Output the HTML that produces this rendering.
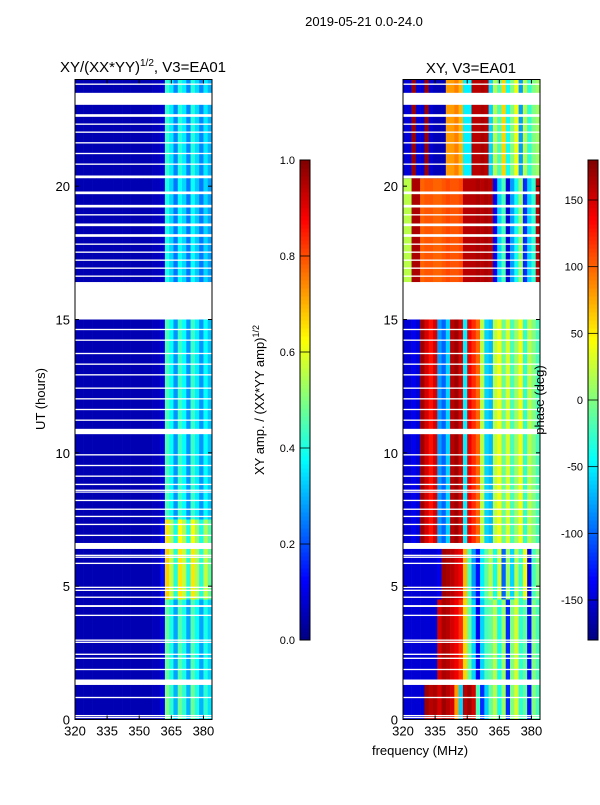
<!DOCTYPE html>
<html><head><meta charset="utf-8">
<style>
body{margin:0;background:#fff;}
svg text{font-family:"Liberation Sans","DejaVu Sans",sans-serif;fill:#000;}
</style></head>
<body>
<svg id="fig" width="600" height="800" xmlns="http://www.w3.org/2000/svg">
<text x="364" y="26" font-size="13" text-anchor="middle">2019-05-21 0.0-24.0</text>
<text x="143" y="72" font-size="15" text-anchor="middle">XY/(XX*YY)<tspan font-size="10" dy="-6">1/2</tspan><tspan dy="6">, V3=EA01</tspan></text>
<text x="471" y="73" font-size="15" text-anchor="middle">XY, V3=EA01</text>
<text x="420" y="755" font-size="13" text-anchor="middle">frequency (MHz)</text>
<text transform="translate(45,399) rotate(-90)" font-size="13" text-anchor="middle">UT (hours)</text>
<text transform="translate(264,400) rotate(-90)" font-size="13" text-anchor="middle">XY amp. / (XX*YY amp)<tspan font-size="9" dy="-5">1/2</tspan></text>
<g id="left"></g>
<g id="right"></g>
<g id="axes"></g>
<text transform="translate(544,400) rotate(-90)" font-size="13" text-anchor="middle">phase (deg)</text>
</svg>
<script>
// frequency channels (MHz, 2 MHz wide, 320-384)
const channels = [320,322,324,326,328,330,332,334,336,338,340,342,344,346,348,350,352,354,356,358,360,362,364,366,368,370,372,374,376,378,380,382];
// left amplitude profile per channel
const ampProfile = [0.05,0.05,0.05,0.05,0.05,0.05,0.05,0.05,0.05,0.05,0.05,0.05,0.05,0.05,0.05,0.05,0.05,0.05,0.06,0.06,0.1,0.5,0.42,0.3,0.48,0.42,0.3,0.48,0.4,0.3,0.42,0.35];
// time segments [start,end] and amp gain
const segStart = [0,1.5,4.5,6.6,7.5,16.4,20.3];
const segEnd   = [1.3,4.5,6.4,7.5,15.0,20.3,24];
const segGain  = [1.0,0.95,1.35,1.3,0.9,0.8,0.85];
// phase profiles (deg) per segment, per channel
const phaseSeg = [
 [-150,-150,-150,-150,-150,170,160,165,150,170,160,150,80,-60,160,170,150,-20,-120,-60,-10,20,-40,10,-120,0,30,-30,-10,-130,0,-20],
 [-150,-150,-150,-150,-150,-150,-150,-150,150,165,160,150,140,120,60,-10,-60,-140,-60,-20,-10,20,-40,10,-120,0,30,-30,-10,-130,0,-20],
 [-150,-150,-150,-150,-150,-150,-150,-150,-140,170,165,160,150,140,70,-20,-80,-130,-50,-10,20,-40,30,-100,10,-60,20,-30,40,-140,-20,0],
 [-150,-150,-140,-150,170,150,130,150,-80,-100,-60,160,170,150,-50,140,120,100,20,-60,-70,20,40,-10,30,-20,10,40,-30,20,0,-20],
 [-150,-150,-140,-150,170,150,130,150,-80,-100,-60,160,170,150,-50,140,120,100,20,-60,-70,20,40,-10,30,-20,10,40,-30,20,0,-20],
 [20,20,165,165,100,105,105,100,100,105,110,105,105,110,160,160,160,165,160,165,160,-140,-60,-20,-150,-80,-40,10,-120,-60,-30,160],
 [-150,-150,170,-150,-150,170,-150,-160,-160,-160,80,80,90,70,-50,-50,160,160,165,160,-60,20,-20,60,-40,0,40,-80,20,-30,0,10]
];
// data-gap hours (white rows): [start,end]
const gapStart = [0.05,0.13,0.8,1.3,1.85,2.27,2.42,2.87,2.95,3.88,4.22,4.56,4.82,4.93,5.83,6.06,6.13,6.4,6.88,7.29,7.59,7.86,8.19,8.51,8.57,8.79,9.1,9.5,9.9,10.7,11.2,11.6,12.0,12.4,12.9,13.3,13.7,14.2,14.6,15.0,16.6,16.9,17.2,17.5,17.8,18.1,18.5,18.9,19.2,19.7,20.3,20.8,21.2,21.6,22.0,22.3,22.6,23.05,23.8];
const gapEnd   = [0.1,0.17,0.85,1.5,1.9,2.32,2.47,2.92,3.0,3.93,4.29,4.61,4.87,4.98,5.88,6.11,6.18,6.62,6.93,7.34,7.64,7.91,8.24,8.55,8.62,8.84,9.15,9.55,9.95,10.9,11.25,11.65,12.05,12.45,12.95,13.35,13.75,14.25,14.65,16.4,16.65,16.95,17.25,17.55,17.85,18.2,18.6,18.95,19.3,19.8,20.4,20.85,21.25,21.65,22.05,22.35,22.7,23.5,23.85];
const yTicks = [0,5,10,15,20];
const xTicks = [320,335,350,365,380];
const ampTicks = [0.0,0.2,0.4,0.6,0.8,1.0];
const phaseTicks = [-150,-100,-50,0,50,100,150];

const NS="http://www.w3.org/2000/svg";
const fig=document.getElementById('fig');
function mk(tag,attrs,parent){const e=document.createElementNS(NS,tag);for(const k in attrs)e.setAttribute(k,attrs[k]);parent.appendChild(e);return e;}
function jet(v){v=Math.max(0,Math.min(1,v));
 const r=Math.max(0,Math.min(1,1.5-Math.abs(4*v-3)));
 const g=Math.max(0,Math.min(1,1.5-Math.abs(4*v-2)));
 const b=Math.max(0,Math.min(1,1.5-Math.abs(4*v-1)));
 return `rgb(${Math.round(r*255)},${Math.round(g*255)},${Math.round(b*255)})`;}
const yT=0, yB=24, pyTop=79.5, pyBot=719.5;
function yS(h){return pyBot-(h-yT)/(yB-yT)*(pyBot-pyTop);}
function xS(f,x0){return x0+(f-320)/64*137;}
const panels=[{x0:75,g:'left'},{x0:403,g:'right'}];
panels.forEach((p,pi)=>{
 const g=document.getElementById(p.g);
 segStart.forEach((s,si)=>{
  channels.forEach((c,ci)=>{
   let col;
   if(pi===0) col=jet(ampProfile[ci]*(ci>=20?segGain[si]:1));
   else col=jet((phaseSeg[si][ci]+180)/360);
   const r=mk('rect',{x:xS(c,p.x0),y:yS(segEnd[si]),width:xS(c+2,p.x0)-xS(c,p.x0)+0.3,height:yS(s)-yS(segEnd[si]),fill:col},g);
   
   
  });
 });
 gapStart.forEach((s,i)=>{
  const r=mk('rect',{x:p.x0,y:yS(gapEnd[i]),width:137,height:Math.max(1.2,yS(s)-yS(gapEnd[i])),fill:'#fff'},g);
  
  
 });
 const ax=document.getElementById('axes');
 const fr=mk('rect',{x:p.x0,y:pyTop,width:137,height:pyBot-pyTop,fill:'none',stroke:'#000','stroke-width':1},ax);
 
 
 yTicks.forEach(t=>{
  const y=yS(t);
  mk('line',{x1:p.x0,x2:p.x0+4,y1:y,y2:y,stroke:'#000'},ax);
  mk('line',{x1:p.x0+137,x2:p.x0+133,y1:y,y2:y,stroke:'#000'},ax);
  const tx=mk('text',{x:p.x0-5,y:y+5,'font-size':13,'text-anchor':'end'},ax);
  tx.textContent=t;
  
  
 });
 xTicks.forEach(t=>{
  const x=xS(t,p.x0);
  mk('line',{x1:x,x2:x,y1:pyBot,y2:pyBot-4,stroke:'#000'},ax);
  mk('line',{x1:x,x2:x,y1:pyTop,y2:pyTop+4,stroke:'#000'},ax);
  const tx=mk('text',{x:x,y:pyBot+16,'font-size':13,'text-anchor':'middle'},ax);
  tx.textContent=t;
  
  
 });
});
// colorbars
function colorbar(x0,vmin,vmax,ticks,name){
 const g=mk('g',{},fig);
 
 
 const top=160,bot=640,n=120;
 for(let i=0;i<n;i++){
  mk('rect',{x:x0,y:bot-(i+1)*(bot-top)/n,width:10,height:(bot-top)/n+0.5,fill:jet((i+0.5)/n)},g);
 }
 mk('rect',{x:x0,y:top,width:10,height:bot-top,fill:'none',stroke:'#000'},g);
 ticks.forEach(t=>{
  const y=bot-(t-vmin)/(vmax-vmin)*(bot-top);
  mk('line',{x1:x0,x2:x0+10,y1:y,y2:y,stroke:'#000','stroke-width':0.8},g);
  const tx=mk('text',{x:x0-5,y:y+4,'font-size':11,'text-anchor':'end'},g);
  tx.textContent=(vmax===1?t.toFixed(1):t);
  
  
 });
}
colorbar(300,0,1,ampTicks,'amp-colorbar');
colorbar(588,-180,180,phaseTicks,'phase-colorbar');
</script>
</body></html>
